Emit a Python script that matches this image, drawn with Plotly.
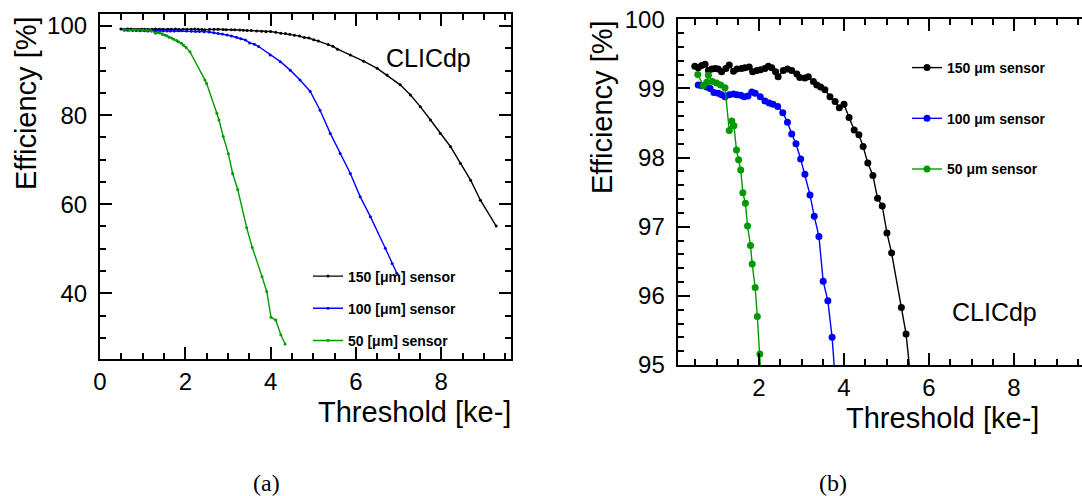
import plotly.graph_objects as go

# ---------------- data ----------------
thr_150 = [0.49, 0.57, 0.65, 0.73, 0.81, 0.89, 0.97, 1.04, 1.12, 1.22, 1.30, 1.40, 1.48, 1.59,
           1.67, 1.77, 1.85, 1.95, 2.04, 2.14, 2.22, 2.30, 2.39, 2.45, 2.57, 2.67, 2.77, 2.89,
           2.96, 3.08, 3.16, 3.28, 3.36, 3.45, 3.55, 3.67, 3.79, 3.89, 4.00, 4.12, 4.24, 4.35,
           4.45, 4.56, 4.68, 4.79, 4.90, 5.01, 5.12, 5.35, 5.46, 5.57, 5.87, 6.18, 6.50, 6.73,
           7.04, 7.28, 7.51, 7.75, 7.98, 8.22, 8.45, 8.69, 8.92, 9.29]
eff_150 = [99.32, 99.30, 99.33, 99.35, 99.26, 99.28, 99.29, 99.28, 99.24, 99.29, 99.34, 99.25,
           99.28, 99.29, 99.30, 99.31, 99.24, 99.26, 99.27, 99.29, 99.32, 99.30, 99.24, 99.17,
           99.26, 99.28, 99.26, 99.21, 99.16, 99.15, 99.17, 99.10, 99.05, 99.02, 98.98, 98.88,
           98.81, 98.72, 98.77, 98.58, 98.40, 98.33, 98.16, 97.92, 97.74, 97.41, 97.30, 96.91,
           96.62, 95.83, 95.45, 94.80, 93.5, 92.1, 90.5, 89.0, 86.8, 84.5, 81.9, 78.9, 75.9,
           72.9, 69.2, 65.4, 60.9, 55.1]

thr_100 = [0.57, 0.65, 0.77, 0.85, 0.94, 1.04, 1.12, 1.20, 1.30, 1.40, 1.48, 1.57, 1.65, 1.74,
           1.83, 1.91, 2.03, 2.14, 2.24, 2.33, 2.44, 2.56, 2.67, 2.77, 2.87, 2.98, 3.08, 3.20,
           3.30, 3.41, 3.51, 3.62, 3.72, 3.99, 4.23, 4.46, 4.69, 4.93, 5.16, 5.40, 5.63, 5.87,
           6.10, 6.34, 6.69, 6.85, 6.96]
eff_100 = [99.05, 99.04, 99.02, 99.00, 98.94, 98.93, 98.91, 98.88, 98.91, 98.92, 98.91, 98.90,
           98.88, 98.89, 98.95, 98.93, 98.88, 98.82, 98.79, 98.77, 98.74, 98.65, 98.51, 98.34,
           98.20, 97.98, 97.76, 97.46, 97.15, 96.86, 96.21, 95.93, 95.40, 93.5, 92.0, 90.1,
           87.9, 85.3, 81.1, 75.9, 71.4, 66.9, 61.7, 57.2, 50.1, 46.7, 44.5]

thr_50 = [0.56, 0.69, 0.77, 0.81, 0.90, 1.00, 1.10, 1.20, 1.30, 1.36, 1.41, 1.47, 1.52, 1.57,
          1.62, 1.68, 1.73, 1.80, 1.84, 1.91, 1.96, 2.02, 2.11, 2.46, 2.50, 2.74, 2.79, 2.89,
          3.01, 3.11, 3.23, 3.44, 3.57, 3.80, 3.91, 4.01, 4.12, 4.24, 4.34]
eff_50 = [99.20, 99.04, 99.09, 99.19, 99.10, 99.08, 99.05, 99.01, 98.39, 98.53, 98.46, 98.11,
          97.97, 97.82, 97.49, 97.34, 97.01, 96.73, 96.46, 96.12, 95.70, 95.16, 94.2, 87.9,
          87.1, 80.4, 78.9, 75.2, 71.3, 66.9, 63.3, 54.7, 50.3, 43.7, 40.4, 34.6, 34.0, 30.7,
          28.6]

sensors = ["150", "100", "50"]
colors = ["#000000", "#0000ff", "#009a00"]
series_x = [thr_150, thr_100, thr_50]
series_y = [eff_150, eff_100, eff_50]

# ---------------- layout helpers ----------------
W, H = 1082, 496
def px(x):
    return x / W
def py(y):
    return 1 - y / H

FONT = "Liberation Sans, Arial, Helvetica, sans-serif"
SERIF = "Liberation Serif, Times New Roman, serif"

fig = go.Figure()

for s, xs, ys, c in zip(sensors, series_x, series_y, colors):
    fig.add_trace(go.Scatter(
        x=xs, y=ys, mode="lines+markers", name=f"{s} [μm] sensor",
        line=dict(color=c, width=1.4), marker=dict(color=c, size=3),
        xaxis="x", yaxis="y", legend="legend", legendgroup="a" + s))

for s, xs, ys, c in zip(sensors, series_x, series_y, colors):
    fig.add_trace(go.Scatter(
        x=xs, y=ys, mode="lines+markers", name=f"{s} μm sensor",
        line=dict(color=c, width=1.4), marker=dict(color=c, size=7),
        xaxis="x2", yaxis="y2", legend="legend2", legendgroup="b" + s))

def axis(**kw):
    d = dict(showline=True, linecolor="black", linewidth=2.2, ticks="inside",
             tickcolor="black", tickwidth=1.5, ticklen=12, showgrid=False,
             zeroline=False, automargin=False,
             tickfont=dict(family=FONT, size=24, color="black"),
             ticklabelstandoff=6)
    d.update(kw)
    return d

def minor(dt):
    return dict(ticks="inside", ticklen=6, tickcolor="black", tickwidth=1.5,
                dtick=dt, showgrid=False)

fig.update_layout(
    template="none",
    width=W, height=H, margin=dict(l=0, r=0, t=0, b=0, pad=0),
    paper_bgcolor="white", plot_bgcolor="white", showlegend=True,
    xaxis=axis(domain=[px(100), px(510.7)], range=[0, 9.63], anchor="y",
               dtick=2, tick0=0, minor=minor(0.5), mirror="ticks",
               ticklabelstandoff=0),
    yaxis=axis(domain=[py(359), py(14)], range=[25.25, 102.7], anchor="x",
               dtick=20, tick0=0, minor=minor(5), mirror="ticks"),
    xaxis2=axis(domain=[px(677.7), 1.0], range=[0.087, 9.6], anchor="y2",
                dtick=2, tick0=0, minor=minor(0.5), mirror="ticks",
                ticklabelstandoff=0),
    yaxis2=axis(domain=[py(365), py(19.3)], range=[95, 100], anchor="x2",
                dtick=1, tick0=0, minor=minor(0.2), mirror=False),
    legend=dict(x=px(308), y=py(260.5), xanchor="left", yanchor="top",
                bgcolor="rgba(0,0,0,0)", tracegroupgap=11, itemwidth=30,
                font=dict(family=FONT, size=14, color="black", weight="bold")),
    legend2=dict(x=px(907), y=py(52), xanchor="left", yanchor="top",
                 bgcolor="rgba(0,0,0,0)", tracegroupgap=29.5, itemwidth=30,
                 font=dict(family=FONT, size=14, color="black", weight="bold")),
)

ann = [
    dict(text="CLICdp", x=px(428), y=py(58), size=25, family=FONT, angle=0),
    dict(text="CLICdp", x=px(994.5), y=py(312), size=25, family=FONT, angle=0),
    dict(text="Efficiency [%]", x=px(26), y=py(103), size=29, family=FONT, angle=-90),
    dict(text="Efficiency [%]", x=px(601.5), y=py(107.5), size=29, family=FONT, angle=-90),
    dict(text="Threshold [ke-]", x=px(414), y=py(412), size=29, family=FONT, angle=0),
    dict(text="Threshold [ke-]", x=px(942), y=py(418), size=29, family=FONT, angle=0),
    dict(text="(a)", x=px(266), y=py(483), size=24, family=SERIF, angle=0),
    dict(text="(b)", x=px(833), y=py(483), size=24, family=SERIF, angle=0),
]
for a in ann:
    fig.add_annotation(text=a["text"], x=a["x"], y=a["y"], xref="paper", yref="paper",
                       xanchor="center", yanchor="middle", showarrow=False,
                       textangle=a["angle"],
                       font=dict(family=a["family"], size=a["size"], color="black"))

fig.write_html("out.html")
